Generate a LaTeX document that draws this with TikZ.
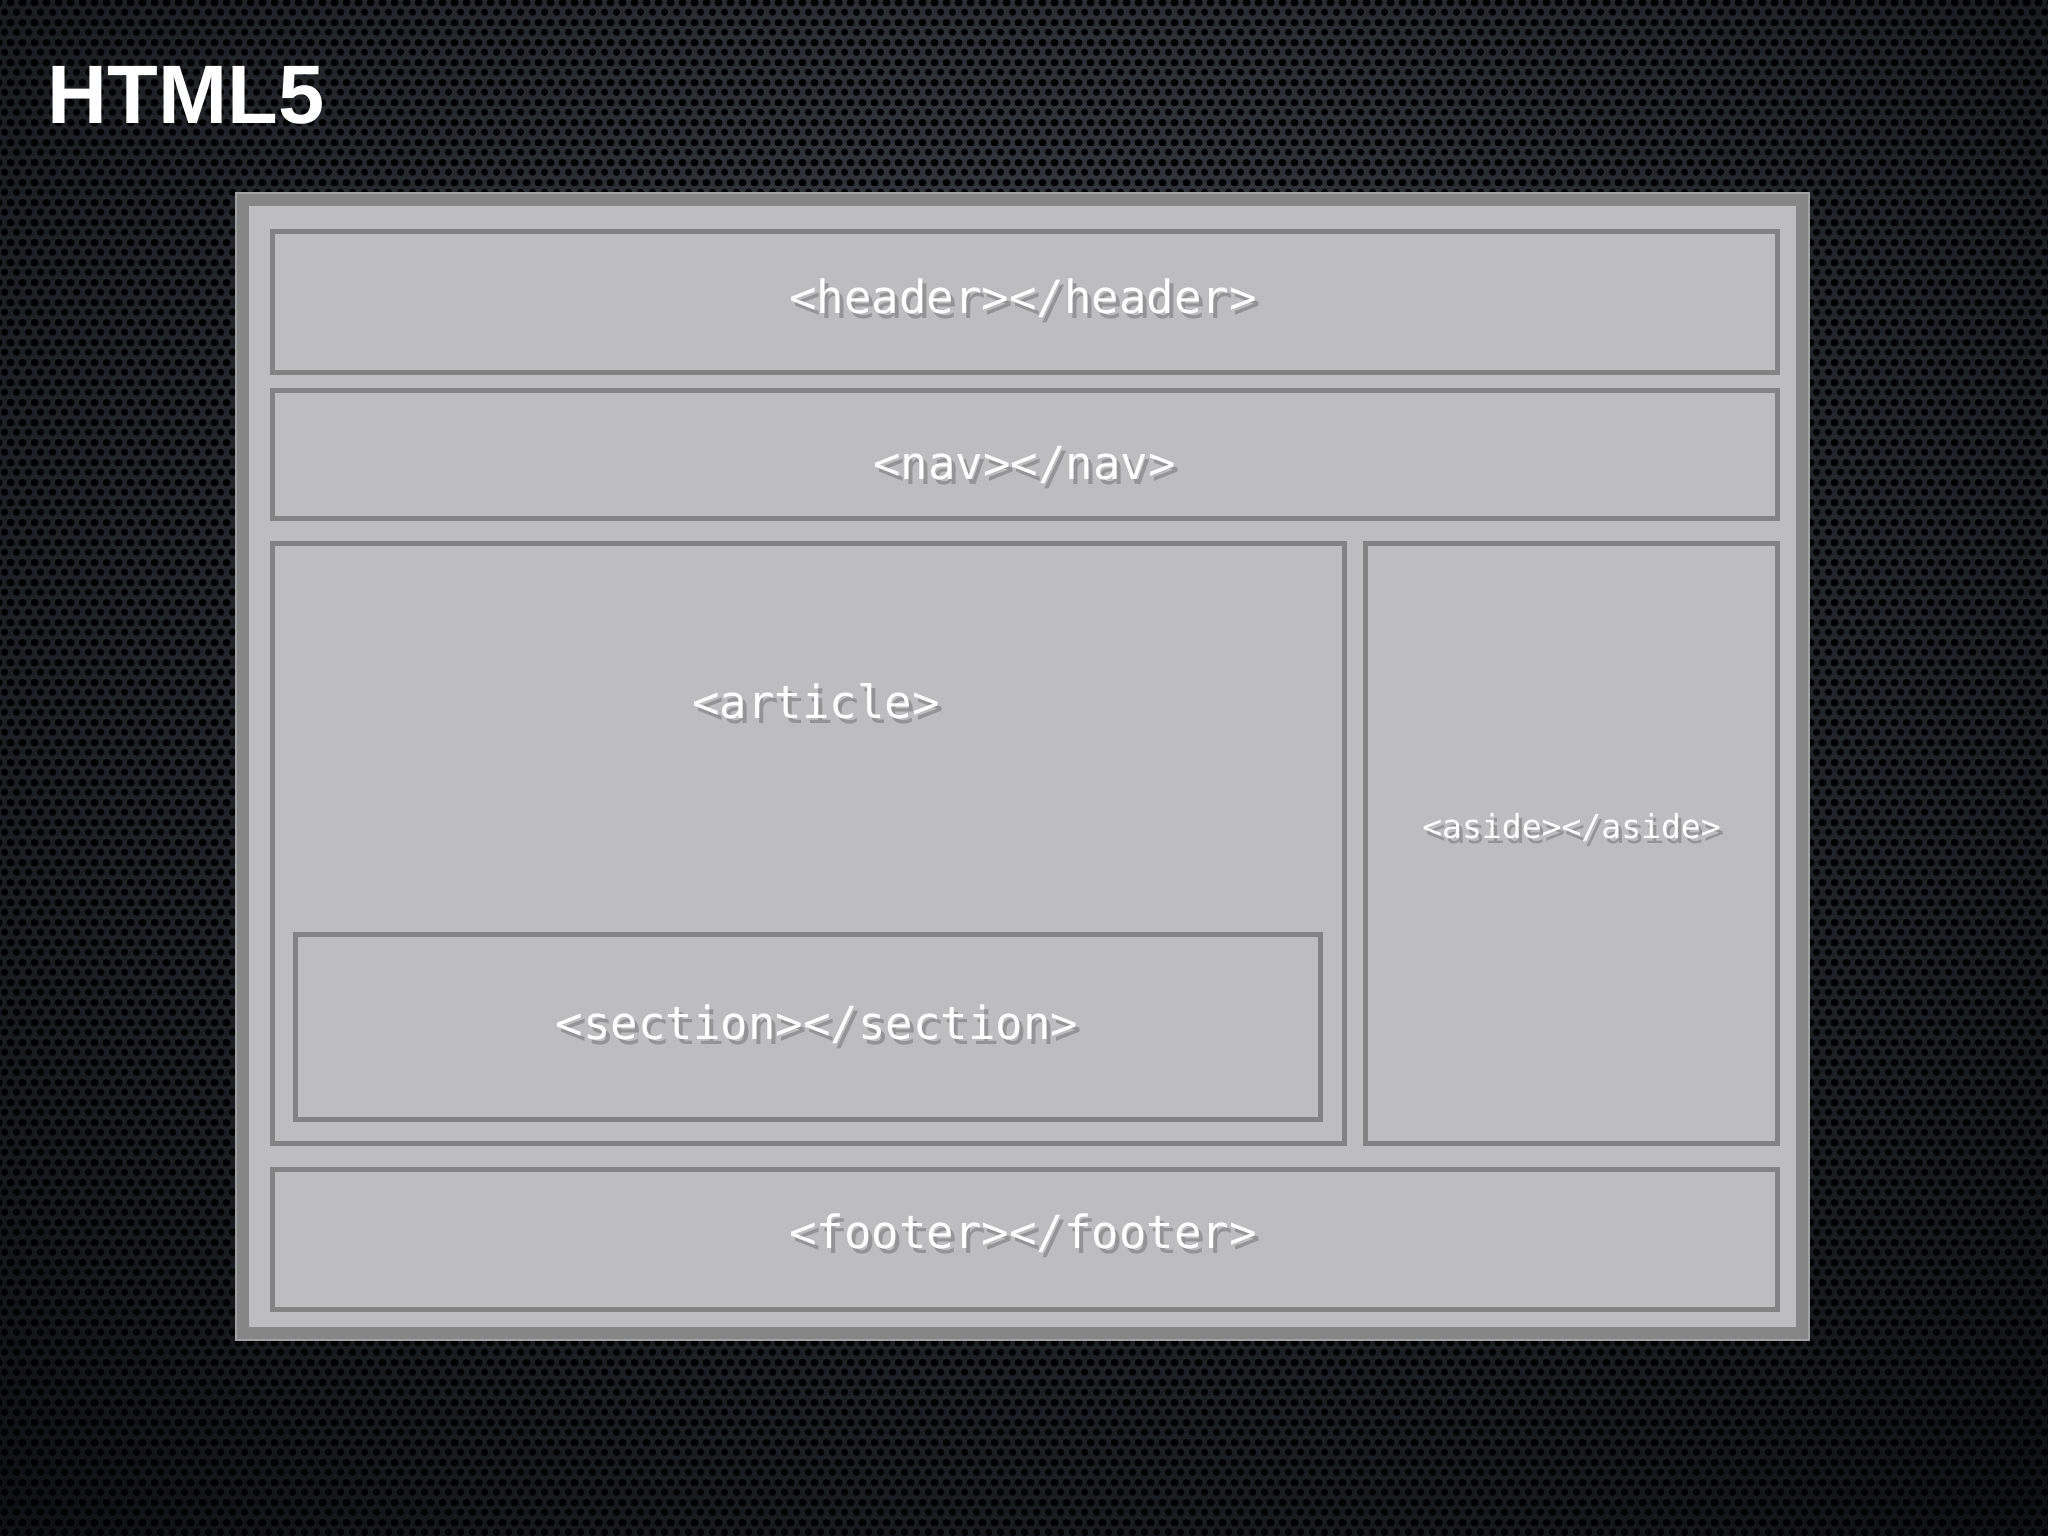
\documentclass[tikz,border=0pt]{standalone}
\usepackage{fontspec}
\setmainfont{Liberation Sans}
\newfontfamily\tagfont{DejaVu Sans Mono}
\usetikzlibrary{shadings,patterns}
\definecolor{bgdark}{HTML}{0F1114}
\definecolor{bgmid}{HTML}{3A3D44}
\definecolor{framegray}{HTML}{868686}
\definecolor{frameedge}{HTML}{A2A2A2}
\definecolor{panelfill}{HTML}{BDBDBF}
\definecolor{boxline}{HTML}{838383}
\definecolor{shadowcol}{HTML}{4A4A4A}
\pgfdeclarepatternformonly{hexholes}{\pgfpointorigin}{\pgfpoint{3.414pt}{5.69pt}}{\pgfpoint{3.414pt}{5.69pt}}{%
  \pgfpathcircle{\pgfpoint{1.707pt}{1.423pt}}{1.08pt}
  \pgfpathcircle{\pgfpoint{0pt}{4.268pt}}{1.08pt}
  \pgfpathcircle{\pgfpoint{3.414pt}{4.268pt}}{1.08pt}
  \pgfusepath{fill}}
\tikzset{
  x=0.01cm, y=-0.01cm,
  box/.style={draw=boxline, line width=0.05cm, fill=panelfill, inner sep=0pt, outer sep=0pt, rectangle},
  tagtext/.style={text=white, font=\tagfont\fontsize{13}{15}\selectfont, inner sep=0pt, anchor=base},
  smalltag/.style={text=white, font=\tagfont\fontsize{9.4}{11}\selectfont, inner sep=0pt, anchor=base},
  tagshadow/.style={text=shadowcol, opacity=0.35},
}
\begin{document}
\begin{tikzpicture}
% background
\useasboundingbox (0,0) rectangle (2048,1536);
\shade[inner color=bgmid, outer color=bgdark] (-500,-900) rectangle (2548,1836);
\fill[pattern=hexholes, pattern color=black] (0,0) rectangle (2048,1536);
% title
\node[text=white, font=\bfseries\fontsize{23.6}{28}\selectfont, inner sep=0pt, anchor=base west] (title) at (47,123) {HTML5};
% outer frame
\node[fill=framegray, draw=frameedge, line width=0.02cm, inner sep=0pt, outer sep=0pt, minimum width=15.73cm, minimum height=11.47cm] (frame) at (1022.5,766.5) {};
\node[fill=panelfill, inner sep=0pt, outer sep=0pt, minimum width=15.47cm, minimum height=11.21cm] (panel) at (1022.5,766.5) {};
% boxes
\node[box, minimum width=15.05cm, minimum height=1.41cm] (header) at (1025,302) {};
\node[box, minimum width=15.05cm, minimum height=1.28cm] (nav) at (1025,454.5) {};
\node[box, minimum width=10.72cm, minimum height=6.00cm] (article) at (808.5,843.5) {};
\node[box, minimum width=4.12cm, minimum height=6.00cm] (aside) at (1571.5,843.5) {};
\node[box, minimum width=10.25cm, minimum height=1.85cm] (section) at (808,1027) {};
\node[box, minimum width=15.05cm, minimum height=1.40cm] (footer) at (1025,1239.5) {};
% text shadows
\node[tagtext, tagshadow] (headersh) at (1027,318) {<header></header>};
\node[tagtext, tagshadow] (navsh) at (1028.5,484) {<nav></nav>};
\node[tagtext, tagshadow] (articlesh) at (820,723) {<article>};
\node[smalltag, tagshadow] (asidesh) at (1575,843) {<aside></aside>};
\node[tagtext, tagshadow] (sectionsh) at (821,1044) {<section></section>};
\node[tagtext, tagshadow] (footersh) at (1027,1253) {<footer></footer>};
% texts
\node[tagtext] (headertxt) at (1023,313) {<header></header>};
\node[tagtext] (navtxt) at (1024.5,479) {<nav></nav>};
\node[tagtext] (articletxt) at (816,718) {<article>};
\node[smalltag] (asidetxt) at (1571.5,838) {<aside></aside>};
\node[tagtext] (sectiontxt) at (817,1039) {<section></section>};
\node[tagtext] (footertxt) at (1023,1248) {<footer></footer>};
\end{tikzpicture}
\end{document}
